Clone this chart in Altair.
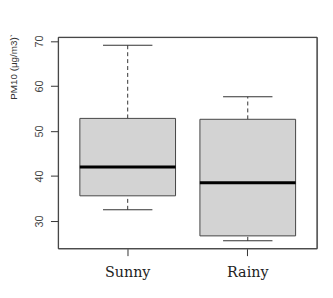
import altair as alt
import pandas as pd

categories = ["Sunny", "Rainy"]
whisker_low = [32.5, 25.6]
q1 = [35.6, 26.7]
median = [42.0, 38.5]
q3 = [52.8, 52.6]
whisker_high = [69.05, 57.6]

df = pd.DataFrame({
    "cat": categories,
    "lo": whisker_low,
    "q1": q1,
    "med": median,
    "q3": q3,
    "hi": whisker_high,
})

xs = alt.X("cat:N", sort=categories,
           scale=alt.Scale(domain=categories, paddingInner=0.203, paddingOuter=0.179),
           axis=alt.Axis(title=None, labelAngle=0, domain=False, tickSize=7,
                         tickColor="#333", labelFont="DejaVu Serif", labelFontSize=14.5,
                         labelColor="#222", labelBaseline="alphabetic", labelPadding=21))
ydom = [23.85, 70.8]
yaxis = alt.Axis(title="PM10 (μg/m3)`", values=[30, 40, 50, 60, 70], grid=False, domain=False,
                 tickSize=8, tickColor="#333", labelAngle=270, labelAlign="center",
                 labelBaseline="alphabetic", labelPadding=8, labelFont="Liberation Sans",
                 labelFontSize=11, labelColor="#444",
                 titleFont="Liberation Sans", titleFontSize=10, titleFontWeight="normal",
                 titleColor="#333", titleAngle=270, titleAlign="right", titleBaseline="middle",
                 titleX=-45, titleY=-4)

base = alt.Chart(df)

upper = base.mark_rule(color="#333", strokeWidth=1, strokeDash=[4, 3]).encode(
    x=xs, y=alt.Y("q3:Q", scale=alt.Scale(domain=ydom, nice=False, zero=False), axis=yaxis), y2="hi:Q")
lower = base.mark_rule(color="#333", strokeWidth=1, strokeDash=[4, 3]).encode(
    x=xs, y=alt.Y("lo:Q"), y2="q1:Q")
box = base.mark_bar(fill="#d3d3d3", stroke="#444", strokeWidth=1, opacity=1).encode(
    x=xs, y=alt.Y("q1:Q"), y2="q3:Q")
cap_hi = base.mark_tick(color="#333", size=50, thickness=1, opacity=1).encode(x=xs, y=alt.Y("hi:Q"))
cap_lo = base.mark_tick(color="#333", size=50, thickness=1, opacity=1).encode(x=xs, y=alt.Y("lo:Q"))
med = base.mark_tick(color="black", size=97, thickness=3, opacity=1).encode(x=xs, y=alt.Y("med:Q"))
frame = base.mark_rect(fill=None, fillOpacity=0, stroke="#444", strokeWidth=1).encode(
    x=alt.value(0), x2=alt.value(262), y=alt.value(0), y2=alt.value(214))

chart = alt.layer(upper, lower, box, cap_hi, cap_lo, med, frame).properties(
    width=262, height=214,
    autosize=alt.AutoSizeParams(type="none"),
    padding={"left": 51, "top": 28, "right": 8, "bottom": 34},
).configure_view(stroke=None).configure(background="white")

chart.save("out.html", embed_options={"renderer": "svg", "actions": False})
